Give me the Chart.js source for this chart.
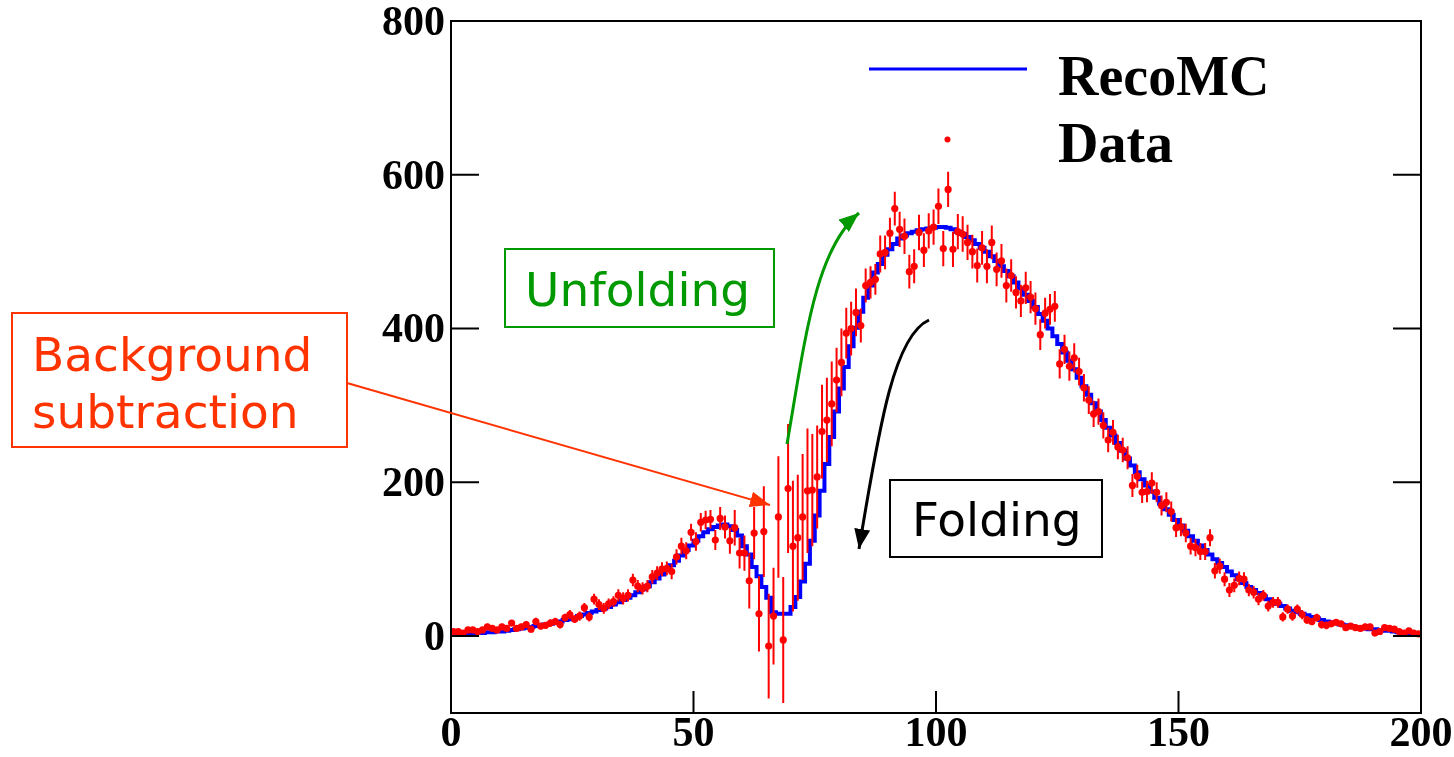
<!DOCTYPE html>
<html lang="en">
<head>
<meta charset="utf-8">
<title>RecoMC vs Data</title>
<script src="https://cdn.jsdelivr.net/npm/chart.js@4.4.1/dist/chart.umd.min.js"></script>
<style>
  html, body { margin: 0; padding: 0; background: #fff; }
  #wrap { position: relative; width: 1454px; height: 757px; overflow: hidden; }
  #plot { position: absolute; left: 0; top: 0; }
  #notes { position: absolute; left: 0; top: 0; pointer-events: none; }
  .note { font-family: 'DejaVu Sans', sans-serif; font-size: 47px; }
  .leg { font-family: 'Liberation Serif', 'Times New Roman', serif; font-weight: bold; font-size: 56px; }
</style>
</head>
<body>
<div id="wrap">
  <canvas id="plot" width="1454" height="757"></canvas>
  <svg id="notes" width="1454" height="757" xmlns="http://www.w3.org/2000/svg">
    <defs>
      <marker id="head-red" markerUnits="userSpaceOnUse" markerWidth="20" markerHeight="16" refX="20" refY="8" orient="auto">
        <path d="M0,0 L20,8 L0,16 z" fill="#ff3300"/>
      </marker>
      <marker id="head-green" markerUnits="userSpaceOnUse" markerWidth="20" markerHeight="16" refX="20" refY="8" orient="auto">
        <path d="M0,0 L20,8 L0,16 z" fill="#009900"/>
      </marker>
      <marker id="head-black" markerUnits="userSpaceOnUse" markerWidth="20" markerHeight="16" refX="20" refY="8" orient="auto">
        <path d="M0,0 L20,8 L0,16 z" fill="#000"/>
      </marker>
    </defs>

    <!-- legend -->
    <line x1="869" y1="69" x2="1027" y2="69" stroke="#0000ff" stroke-width="3"/>
    <circle cx="947.5" cy="139.5" r="3" fill="#ff0000"/>
    <text class="leg" x="1058" y="95">RecoMC</text>
    <text class="leg" x="1058" y="162">Data</text>

    <!-- background subtraction -->
    <rect x="12" y="313" width="335" height="134" fill="#fff" stroke="#ff3300" stroke-width="2"/>
    <text class="note" fill="#ff3300" x="32" y="371">Background</text>
    <text class="note" fill="#ff3300" x="32" y="428">subtraction</text>
    <line x1="347" y1="383" x2="770" y2="505" stroke="#ff3300" stroke-width="2" marker-end="url(#head-red)"/>

    <!-- unfolding -->
    <rect x="505" y="249" width="269" height="78" fill="#fff" stroke="#009900" stroke-width="2"/>
    <text class="note" fill="#009900" x="525" y="306">Unfolding</text>
    <path d="M787,444 C805,340 815,250 859,213" fill="none" stroke="#009900" stroke-width="3" marker-end="url(#head-green)"/>

    <!-- folding -->
    <rect x="890" y="480" width="212" height="77" fill="#fff" stroke="#000" stroke-width="2"/>
    <text class="note" fill="#000" x="912" y="536">Folding</text>
    <path d="M929,320 C895,335 880,420 859,549" fill="none" stroke="#000" stroke-width="3" marker-end="url(#head-black)"/>
  </svg>
</div>

<script>
// binning of the histogram
var X_MIN = 0, X_MAX = 200, N_BINS = 200;
var X_TICKS = [0, 50, 100, 150, 200];
var Y_MIN = -100, Y_MAX = 800;
var Y_TICKS = [0, 200, 400, 600, 800];

// reconstructed MC, one value per bin (blue histogram)
var RECO_MC = [
  2, 2, 3, 3, 3, 4, 4, 5, 5, 6, 6, 7, 8, 9, 10, 11, 12, 13, 14, 15,
  16, 18, 19, 21, 22, 24, 26, 28, 30, 32, 34, 36, 38, 41, 44, 47, 50, 53, 57, 61,
  65, 70, 75, 80, 86, 92, 98, 105, 112, 118, 124, 130, 135, 139, 142, 144, 145, 143, 138, 131,
  117, 106, 90, 78, 64, 50, 31, 29, 29, 29, 38, 51, 71, 94, 124, 157, 189, 224, 259, 292,
  322, 350, 377, 401, 422, 440, 456, 473, 484, 496, 503, 510, 517, 521, 524, 526, 528, 529, 530, 531,
  532, 532, 531, 529, 526, 523, 519, 515, 510, 505, 500, 494, 488, 481, 475, 468, 460, 452, 444, 436,
  428, 419, 410, 400, 390, 380, 369, 358, 347, 336, 325, 314, 303, 292, 281, 271, 261, 251, 241, 231,
  222, 213, 204, 196, 188, 180, 172, 165, 158, 151, 144, 137, 130, 124, 118, 112, 106, 100, 95, 90,
  84, 79, 74, 69, 64, 60, 56, 52, 48, 45, 42, 39, 36, 33, 31, 29, 27, 25, 23, 21,
  19, 18, 17, 15, 14, 13, 12, 11, 10, 9, 9, 8, 7, 7, 6, 5, 5, 4, 4, 3
];

// background-subtracted data, one value per bin (red markers)
var DATA = [
  6, 6, 4, 8, 8, 6, 8, 12, 10, 8, 12, 10, 17, 10, 12, 15, 9, 19, 13, 14,
  17, 19, 15, 24, 28, 22, 26, 37, 25, 48, 41, 36, 42, 45, 53, 49, 53, 73, 65, 62,
  65, 77, 82, 87, 88, 84, 103, 117, 111, 135, 123, 148, 151, 152, 125, 153, 142, 124, 141, 108,
  108, 72, 134, 29, 136, -13, 26, 155, -5, 192, 117, 128, 155, 189, 190, 207, 266, 281, 302, 333,
  356, 394, 400, 421, 404, 456, 460, 464, 497, 499, 524, 556, 529, 520, 474, 481, 525, 502, 527, 532,
  559, 504, 581, 503, 526, 523, 512, 500, 482, 505, 481, 512, 477, 488, 456, 469, 447, 436, 453, 441,
  426, 392, 420, 425, 429, 354, 373, 351, 362, 344, 323, 307, 289, 292, 274, 255, 265, 246, 242, 232,
  196, 208, 187, 188, 199, 187, 170, 174, 162, 141, 142, 134, 117, 115, 110, 110, 128, 85, 91, 74,
  60, 66, 75, 74, 60, 57, 48, 53, 39, 44, 44, 25, 35, 26, 35, 28, 21, 19, 24, 15,
  14, 16, 18, 16, 11, 13, 11, 10, 12, 12, 4, 6, 11, 10, 9, 6, 4, 7, 4, 3
];

// symmetric error of each data bin
var DATA_ERR = [
  3, 3, 3, 3, 3, 3, 3, 4, 4, 3, 4, 4, 4, 4, 4, 4, 4, 5, 4, 4,
  5, 5, 5, 5, 6, 5, 6, 6, 6, 7, 7, 7, 7, 7, 8, 8, 8, 8, 8, 8,
  8, 9, 9, 9, 9, 10, 10, 11, 11, 11, 12, 12, 12, 12, 13, 15, 15, 17, 23, 20,
  23, 36, 34, 49, 59, 68, 63, 79, 82, 84, 85, 82, 82, 81, 73, 67, 61, 55, 55, 42,
  44, 33, 35, 31, 22, 22, 21, 20, 24, 22, 20, 22, 23, 23, 22, 22, 23, 22, 23, 23,
  23, 23, 23, 23, 23, 23, 23, 22, 22, 22, 22, 22, 22, 22, 22, 21, 21, 21, 21, 21,
  21, 20, 20, 20, 20, 19, 19, 19, 19, 18, 18, 18, 17, 17, 17, 16, 16, 16, 16, 15,
  15, 15, 14, 14, 14, 13, 13, 13, 13, 12, 12, 12, 11, 11, 11, 11, 11, 10, 10, 9,
  9, 9, 9, 9, 8, 8, 8, 7, 7, 7, 7, 6, 6, 6, 6, 6, 5, 5, 5, 5,
  5, 4, 4, 4, 4, 4, 4, 4, 4, 4, 3, 3, 3, 3, 3, 3, 3, 3, 3, 3
];

var MC_COLOR = '#0000ff';
var DATA_COLOR = '#ff0000';
var TICK_FONT = { family: "'Liberation Serif', 'Times New Roman', serif", size: 42, weight: 'bold', lineHeight: 1 };

var BIN_W = (X_MAX - X_MIN) / N_BINS;

// histogram outline: one point per lower bin edge, plus the closing edge
var mcSteps = RECO_MC.map(function (v, i) { return { x: X_MIN + i * BIN_W, y: v }; });
mcSteps.push({ x: X_MAX, y: RECO_MC[RECO_MC.length - 1] });

var dataPoints = DATA.map(function (v, i) { return { x: X_MIN + (i + 0.5) * BIN_W, y: v }; });

// ROOT-like frame: box, inward ticks, and data error bars
var rootFrame = {
  id: 'rootFrame',
  afterDatasetDraw: function (chart, args) {
    if (args.index !== 1) return; // after the MC histogram, before data markers
    var ctx = chart.ctx, xs = chart.scales.x, ys = chart.scales.y, a = chart.chartArea;
    ctx.save();
    ctx.beginPath();
    ctx.rect(a.left, a.top, a.right - a.left, a.bottom - a.top);
    ctx.clip();
    ctx.strokeStyle = DATA_COLOR;
    ctx.lineWidth = 2;
    ctx.beginPath();
    dataPoints.forEach(function (p, i) {
      var px = xs.getPixelForValue(p.x);
      ctx.moveTo(px, ys.getPixelForValue(p.y - DATA_ERR[i]));
      ctx.lineTo(px, ys.getPixelForValue(p.y + DATA_ERR[i]));
    });
    ctx.stroke();
    ctx.restore();
  },
  afterDraw: function (chart) {
    var ctx = chart.ctx, xs = chart.scales.x, ys = chart.scales.y, a = chart.chartArea;
    ctx.save();
    ctx.strokeStyle = '#000';
    ctx.lineWidth = 2;
    ctx.strokeRect(a.left, a.top, a.right - a.left, a.bottom - a.top);
    ctx.beginPath();
    Y_TICKS.forEach(function (v) {
      if (v >= Y_MAX) return;
      var py = ys.getPixelForValue(v);
      ctx.moveTo(a.left, py); ctx.lineTo(a.left + 28, py);
      ctx.moveTo(a.right, py); ctx.lineTo(a.right - 28, py);
    });
    X_TICKS.forEach(function (v) {
      if (v <= X_MIN || v >= X_MAX) return;
      var px = xs.getPixelForValue(v);
      ctx.moveTo(px, a.bottom); ctx.lineTo(px, a.bottom - 22);
    });
    ctx.stroke();
    ctx.restore();
  }
};

new Chart(document.getElementById('plot').getContext('2d'), {
  type: 'scatter',
  data: {
    datasets: [{
      label: 'Data',
      data: dataPoints,
      backgroundColor: DATA_COLOR,
      borderWidth: 0,
      pointRadius: 3.6
    }, {
      type: 'line',
      label: 'RecoMC',
      data: mcSteps,
      stepped: 'before',
      borderColor: MC_COLOR,
      borderWidth: 4,
      borderJoinStyle: 'miter',
      pointRadius: 0,
      fill: false
    }]
  },
  options: {
    responsive: false,
    animation: false,
    events: [],
    layout: { padding: { top: 21, right: 33, left: 0, bottom: 0 } },
    plugins: {
      legend: { display: false },
      tooltip: { enabled: false }
    },
    scales: {
      x: {
        type: 'linear',
        min: X_MIN,
        max: X_MAX,
        grid: { display: false, drawTicks: false },
        border: { display: false },
        ticks: { font: TICK_FONT, color: '#000', padding: 1, maxRotation: 0, autoSkip: false },
        afterBuildTicks: function (s) { s.ticks = X_TICKS.map(function (v) { return { value: v }; }); },
        afterFit: function (s) { s.height = 44; s.paddingLeft = 0; s.paddingRight = 0; }
      },
      y: {
        type: 'linear',
        min: Y_MIN,
        max: Y_MAX,
        grid: { display: false, drawTicks: false },
        border: { display: false },
        ticks: { font: TICK_FONT, color: '#000', padding: 6, labelOffset: 3 },
        afterBuildTicks: function (s) { s.ticks = Y_TICKS.map(function (v) { return { value: v }; }); },
        afterFit: function (s) { s.width = 451; s.paddingTop = 0; s.paddingBottom = 0; }
      }
    }
  },
  plugins: [rootFrame]
});
</script>
</body>
</html>
